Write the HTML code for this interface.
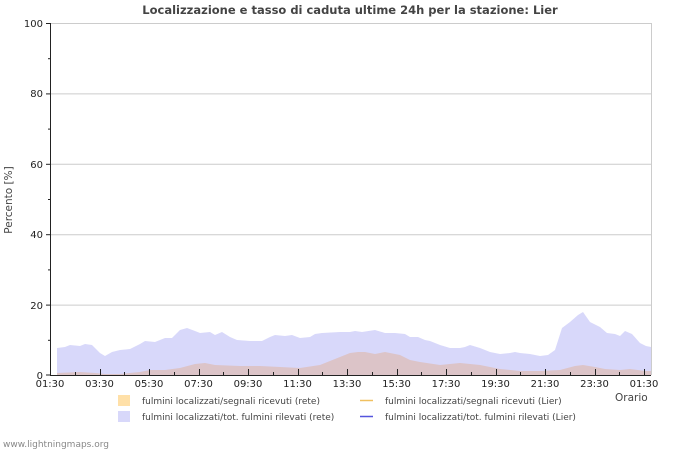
<!DOCTYPE html>
<html><head><meta charset="utf-8"><style>
body{margin:0;background:#fff;}
svg{display:block;font-family:"DejaVu Sans","Liberation Sans",sans-serif;}
</style></head><body>
<svg width="700" height="450" viewBox="0 0 700 450">
<rect width="700" height="450" fill="#fff"/>
<text x="350" y="14" text-anchor="middle" font-size="11.5" font-weight="bold" fill="#444">Localizzazione e tasso di caduta ultime 24h per la stazione: Lier</text>
<g stroke="#ccc" stroke-width="1">
<line x1="50" y1="23.5" x2="651" y2="23.5"/>
<line x1="50" y1="93.9" x2="651" y2="93.9"/>
<line x1="50" y1="164.3" x2="651" y2="164.3"/>
<line x1="50" y1="234.7" x2="651" y2="234.7"/>
<line x1="50" y1="305.1" x2="651" y2="305.1"/>
<line x1="651.5" y1="23" x2="651.5" y2="375"/>
</g>
<polygon fill="#d8d8fa" points="57,375 57,348 65,347 70,345 80,346 85,344 92,345 95,348 100,353 105,356 112,352 120,350 130,349 140,344 145,341 155,342 165,338 172,338 180,330 187,328 195,331 200,333 210,332 215,335 222,332 230,337 237,340 250,341 262,341 270,337 275,335 285,336 292,335 300,338 310,337 315,334 322,333 340,332 350,332 355,331 362,332 375,330 385,333 395,333 405,334 410,337 418,337 425,340 430,341 440,345 450,348 460,348 465,347 470,345 480,348 490,352 500,354 510,353 515,352 520,353 530,354 540,356 548,355 555,350 562,328 570,322 578,315 583,312 590,322 600,327 607,333 615,334 620,336 625,331 632,334 640,343 646,346 651,347 651,375"/>
<polygon fill="#dcc4c8" points="57,375 57,373 80,372 95,373 105,374 120,374 140,372 150,370 165,370 180,368 195,364 205,363 215,365 240,366 260,366 280,367 300,368 320,365 330,361 340,357 350,353 358,352 365,352 375,354 385,352 400,355 410,360 420,362 440,365 460,363 480,365 500,369 520,371 540,371 560,370 575,366 583,365 595,367 605,369 620,370 630,369 645,371 651,371 651,375"/>
<g stroke="#222" stroke-width="1">
<line x1="50.5" y1="23" x2="50.5" y2="375"/>
<line x1="50" y1="375.5" x2="651" y2="375.5"/>
<line x1="46" y1="23.5" x2="50" y2="23.5"/><line x1="46" y1="93.9" x2="50" y2="93.9"/><line x1="46" y1="164.3" x2="50" y2="164.3"/><line x1="46" y1="234.7" x2="50" y2="234.7"/><line x1="46" y1="305.1" x2="50" y2="305.1"/><line x1="46" y1="375" x2="50" y2="375"/>
<line x1="48" y1="58.7" x2="50" y2="58.7"/><line x1="48" y1="129.1" x2="50" y2="129.1"/><line x1="48" y1="199.5" x2="50" y2="199.5"/><line x1="48" y1="269.9" x2="50" y2="269.9"/><line x1="48" y1="340.3" x2="50" y2="340.3"/>
</g>
<g stroke="#222" stroke-width="1" id="xt"></g>
<g font-size="10" fill="#222" text-anchor="end">
<text x="43" y="27">100</text><text x="43" y="97">80</text><text x="43" y="168">60</text><text x="43" y="238">40</text><text x="43" y="309">20</text><text x="43" y="379">0</text>
</g>
<g font-size="10" fill="#222" text-anchor="middle" id="xl"></g>
<text transform="translate(12,200) rotate(-90)" text-anchor="middle" font-size="10.5" fill="#444">Percento  [%]</text>
<text x="615" y="401" font-size="10.5" fill="#444">Orario</text>
<rect x="118" y="395" width="12" height="11" fill="#ffe0a8"/>
<rect x="118" y="411" width="12" height="11" fill="#d8d8fa"/>
<line x1="360" y1="400.5" x2="373" y2="400.5" stroke="#f0c060" stroke-width="1.5"/>
<line x1="360" y1="416.5" x2="373" y2="416.5" stroke="#5555dd" stroke-width="1.5"/>
<g font-size="9" fill="#444">
<text x="142" y="404">fulmini localizzati/segnali ricevuti (rete)</text>
<text x="142" y="420">fulmini localizzati/tot. fulmini rilevati (rete)</text>
<text x="385" y="404">fulmini localizzati/segnali ricevuti (Lier)</text>
<text x="385" y="420">fulmini localizzati/tot. fulmini rilevati (Lier)</text>
</g>
<text x="3" y="447" font-size="9" fill="#888">www.lightningmaps.org</text>
<script>
var t=document.getElementById('xt'),l=document.getElementById('xl'),ns='http://www.w3.org/2000/svg';
var lab=['01:30','03:30','05:30','07:30','09:30','11:30','13:30','15:30','17:30','19:30','21:30','23:30','01:30'];
for(var i=0;i<=24;i++){var x=50+i*24.75;var e=document.createElementNS(ns,'line');var X=Math.round(x)+0.5;
e.setAttribute('x1',X);e.setAttribute('x2',X);e.setAttribute('y1',i%2?372:369);e.setAttribute('y2',375);t.appendChild(e);
if(i%2==0){var s=document.createElementNS(ns,'text');s.setAttribute('x',x);s.setAttribute('y',387);s.textContent=lab[i/2];l.appendChild(s);}}
</script>
</svg>
</body></html>
